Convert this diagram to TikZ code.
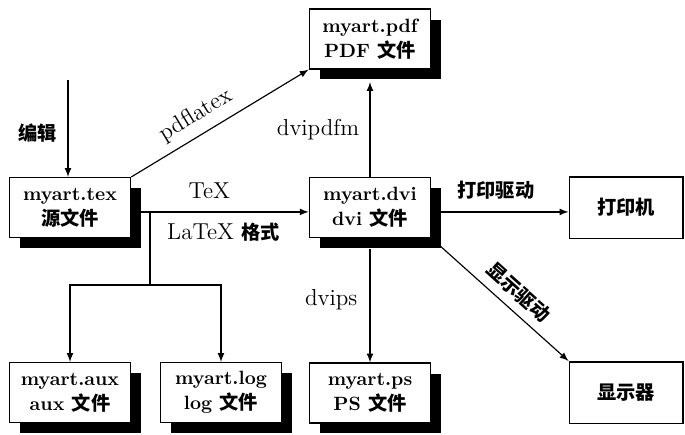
\documentclass[tikz,border=0pt]{standalone}
\usepackage{fontspec}
\newfontfamily\cjk{Noto Sans CJK SC}
\usetikzlibrary{shadows}

\tikzset{
  filebox/.style={draw, thick, fill=white, minimum width=63pt,
    minimum height=31pt, align=center, font=\bfseries,
    drop shadow={shadow xshift=5.5pt, shadow yshift=-5.5pt,
      fill=black, opacity=1}},
  devbox/.style={draw, thick, fill=white, minimum width=59pt,
    minimum height=32pt, font=\cjk\bfseries},
  toollabel/.style={font=\large},
  cnlabel/.style={font=\cjk\bfseries},
  flow/.style={semithick, -latex}
}

\begin{document}
\begin{tikzpicture}[x=0.52pt, y=-0.52pt]
\useasboundingbox (0,0) rectangle (685,434);

% Dateien
\node[filebox] (tex) at (70,207.5) {myart.tex\\[1pt]{\cjk 源文件}};
\node[filebox] (pdf) at (370,39) {myart.pdf\\[1pt]PDF {\cjk 文件}};
\node[filebox] (dvi) at (370,207.5) {myart.dvi\\[1pt]dvi {\cjk 文件}};
\node[filebox] (aux) at (70,392.5) {myart.aux\\[1pt]aux {\cjk 文件}};
\node[filebox] (log) at (221,392.5) {myart.log\\[1pt]log {\cjk 文件}};
\node[filebox] (ps) at (370,393) {myart.ps\\[1pt]PS {\cjk 文件}};

% Geraete
\node[devbox] (printer) at (626,207.5) {打印机};
\node[devbox] (screen) at (626,392.5) {显示器};

\coordinate (editor) at (68,80);
\coordinate (fork) at (150,212);
\coordinate (split) at (150,285);

% Bearbeiten
\draw[flow]
(editor)
-- node[cnlabel, left=2pt, pos=0.55] {编辑}
(editor |- tex.north);

% Uebersetzen
\draw[flow]
(tex.north east)
-- node[toollabel, sloped, above=1pt, pos=0.42] {pdflatex}
(pdf.south west);

\draw[flow]
([yshift=-2.3pt]tex.east)
-- node[toollabel, above=3pt, pos=0.44] {TeX}
   node[below=2pt, pos=0.52] {\large LaTeX {\cjk\bfseries\normalsize 格式}}
([yshift=-2.3pt]dvi.west);

\draw[semithick]
(fork)
-- (split);

\draw[flow]
(split)
-| (aux.north);

\draw[flow]
(split)
-| (log.north);

% Treiber
\draw[flow]
(dvi.north)
-- node[toollabel, left=2pt, pos=0.5] {dvipdfm}
([yshift=-6.5pt]pdf.south);

\draw[flow]
([yshift=-5.5pt]dvi.south)
-- node[toollabel, left=3pt, pos=0.45] {dvips}
(ps.north);

\draw[flow]
([yshift=-2.3pt]dvi.east)
-- node[cnlabel, above=3pt, pos=0.47] {打印驱动}
([yshift=-2.3pt]printer.west);

\draw[flow]
(dvi.south east)
-- node[cnlabel, sloped, above=1pt, pos=0.55] {显示驱动}
(screen.north west);

\end{tikzpicture}
\end{document}
